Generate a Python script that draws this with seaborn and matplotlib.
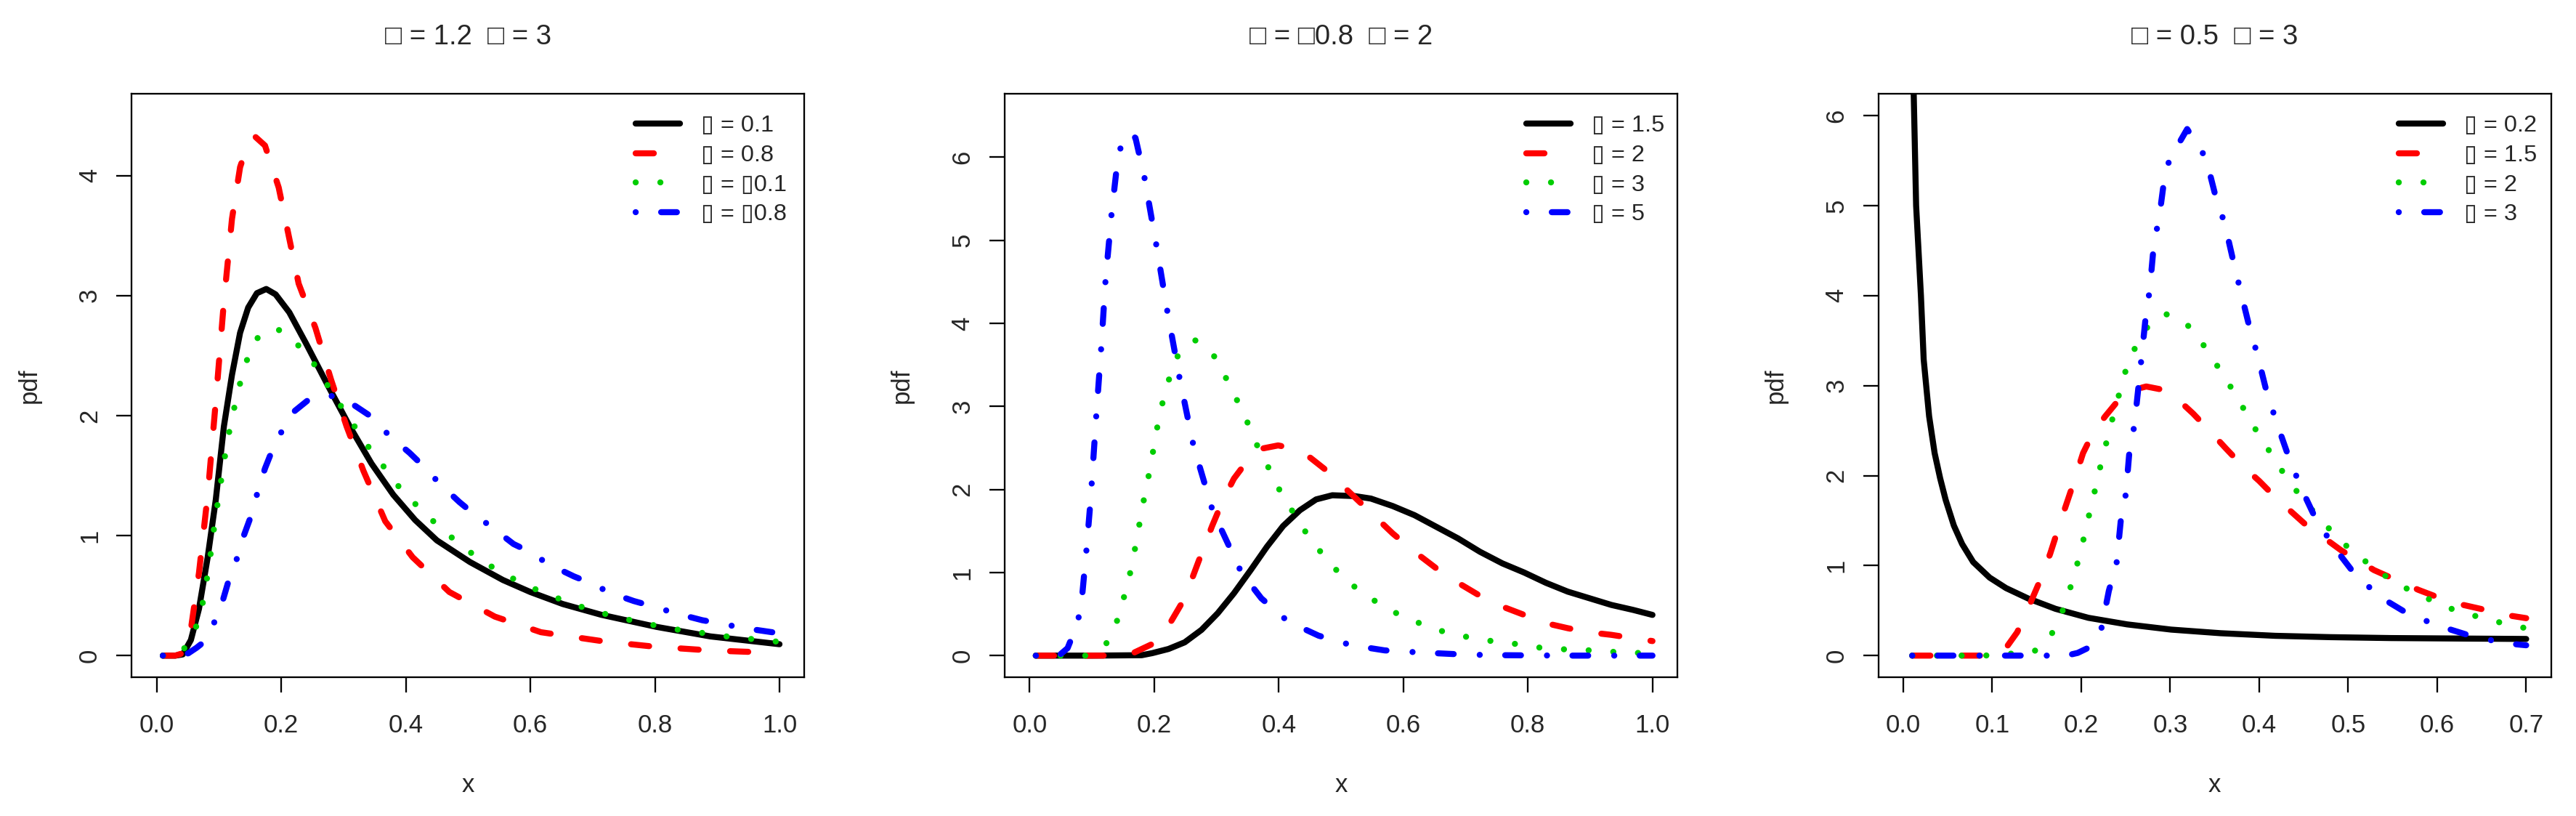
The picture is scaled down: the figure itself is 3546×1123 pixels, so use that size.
import matplotlib
matplotlib.use("Agg")
import matplotlib.pyplot as plt
import seaborn as sns
import numpy as np
import pandas as pd

# ---------------- data ----------------
titles = ["\u25a1 = 1.2  \u25a1 = 3", "\u25a1 = \u25a10.8  \u25a1 = 2", "\u25a1 = 0.5  \u25a1 = 3"]
legend_labels = [
    ["\u25af = 0.1", "\u25af = 0.8", "\u25af = \u25af0.1", "\u25af = \u25af0.8"],
    ["\u25af = 1.5", "\u25af = 2", "\u25af = 3", "\u25af = 5"],
    ["\u25af = 0.2", "\u25af = 1.5", "\u25af = 2", "\u25af = 3"],
]
xticks_p12 = [0.0, 0.2, 0.4, 0.6, 0.8, 1.0]
xticks_p3 = [0.0, 0.1, 0.2, 0.3, 0.4, 0.5, 0.6, 0.7]
yticks_p1 = [0, 1, 2, 3, 4]
yticks_p2 = [0, 1, 2, 3, 4, 5, 6]
yticks_p3 = [0, 1, 2, 3, 4, 5, 6]

# panel 1
p1_black_x = [0.01, 0.03, 0.042, 0.055, 0.068, 0.082, 0.095, 0.108, 0.121, 0.134, 0.147, 0.161, 0.176, 0.191, 0.213, 0.240, 0.275, 0.310, 0.345, 0.380, 0.415, 0.450, 0.503, 0.556, 0.600, 0.652, 0.714, 0.802, 0.889, 1.0]
p1_black_y = [0, 0, 0.01, 0.13, 0.39, 0.82, 1.30, 1.91, 2.34, 2.69, 2.90, 3.02, 3.055, 3.01, 2.86, 2.60, 2.25, 1.91, 1.60, 1.34, 1.13, 0.96, 0.78, 0.63, 0.53, 0.43, 0.34, 0.24, 0.16, 0.095]
p1_red_x = [0.01, 0.03, 0.042, 0.055, 0.068, 0.082, 0.095, 0.108, 0.121, 0.134, 0.147, 0.158, 0.174, 0.196, 0.228, 0.255, 0.280, 0.305, 0.332, 0.367, 0.411, 0.470, 0.543, 0.617, 0.720, 0.800, 0.889, 1.0]
p1_red_y = [0, 0, 0.02, 0.22, 0.69, 1.34, 2.12, 2.95, 3.64, 4.07, 4.27, 4.325, 4.25, 3.90, 3.10, 2.73, 2.30, 1.91, 1.54, 1.12, 0.82, 0.53, 0.325, 0.195, 0.117, 0.074, 0.043, 0.022]
p1_green_x = [0.01, 0.03, 0.040, 0.062, 0.073, 0.080, 0.086, 0.091, 0.097, 0.103, 0.109, 0.116, 0.124, 0.133, 0.144, 0.160, 0.192, 0.223, 0.249, 0.271, 0.292, 0.314, 0.337, 0.361, 0.385, 0.412, 0.441, 0.470, 0.501, 0.535, 0.569, 0.605, 0.643, 0.680, 0.718, 0.757, 0.796, 0.836, 0.875, 0.915, 0.954, 0.995, 1.0]
p1_green_y = [0, 0, 0.022, 0.217, 0.41, 0.615, 0.82, 1.02, 1.235, 1.44, 1.64, 1.85, 2.05, 2.25, 2.45, 2.64, 2.73, 2.61, 2.46, 2.28, 2.11, 1.94, 1.76, 1.60, 1.43, 1.28, 1.135, 1.00, 0.87, 0.75, 0.65, 0.56, 0.48, 0.41, 0.35, 0.30, 0.256, 0.217, 0.19, 0.16, 0.139, 0.117, 0.115]
p1_blue_x = [0.01, 0.042, 0.051, 0.064, 0.075, 0.092, 0.106, 0.117, 0.129, 0.140, 0.152, 0.162, 0.174, 0.187, 0.202, 0.222, 0.247, 0.265, 0.287, 0.319, 0.345, 0.374, 0.406, 0.428, 0.455, 0.486, 0.507, 0.538, 0.573, 0.597, 0.630, 0.670, 0.694, 0.730, 0.766, 0.797, 0.835, 0.876, 0.903, 0.942, 1.0]
p1_blue_y = [0, 0, 0.02, 0.065, 0.11, 0.27, 0.455, 0.65, 0.81, 1.0, 1.17, 1.36, 1.56, 1.73, 1.88, 2.04, 2.145, 2.17, 2.16, 2.08, 1.99, 1.83, 1.69, 1.58, 1.43, 1.28, 1.19, 1.07, 0.93, 0.87, 0.76, 0.66, 0.61, 0.52, 0.455, 0.41, 0.35, 0.295, 0.27, 0.23, 0.186]

# panel 2
p2_black_x = [0.01, 0.10, 0.18, 0.197, 0.223, 0.249, 0.276, 0.302, 0.328, 0.355, 0.381, 0.407, 0.434, 0.460, 0.486, 0.522, 0.548, 0.583, 0.618, 0.653, 0.688, 0.723, 0.759, 0.794, 0.829, 0.864, 0.899, 0.934, 0.969, 1.0]
p2_black_y = [0, 0, 0.005, 0.03, 0.08, 0.16, 0.31, 0.51, 0.75, 1.03, 1.31, 1.56, 1.75, 1.88, 1.93, 1.92, 1.89, 1.80, 1.69, 1.55, 1.41, 1.25, 1.11, 1.00, 0.876, 0.77, 0.69, 0.61, 0.55, 0.49]
p2_red_x = [0.01, 0.10, 0.153, 0.166, 0.197, 0.227, 0.249, 0.271, 0.293, 0.311, 0.328, 0.346, 0.372, 0.399, 0.425, 0.451, 0.478, 0.513, 0.548, 0.583, 0.618, 0.653, 0.688, 0.723, 0.759, 0.794, 0.829, 0.864, 0.899, 0.934, 0.960, 1.0]
p2_red_y = [0, 0, 0.0, 0.03, 0.14, 0.41, 0.69, 1.13, 1.56, 1.88, 2.13, 2.31, 2.49, 2.53, 2.49, 2.38, 2.22, 1.97, 1.72, 1.47, 1.25, 1.05, 0.876, 0.72, 0.59, 0.49, 0.39, 0.33, 0.28, 0.25, 0.22, 0.175]
p2_green_x = [0.01, 0.0896, 0.123, 0.140, 0.151, 0.161, 0.169, 0.176, 0.183, 0.191, 0.198, 0.205, 0.213, 0.224, 0.238, 0.265, 0.295, 0.314, 0.332, 0.349, 0.364, 0.383, 0.400, 0.421, 0.4425, 0.466, 0.4925, 0.5215, 0.554, 0.589, 0.626, 0.664, 0.702, 0.742, 0.781, 0.821, 0.860, 0.901, 0.940, 0.981, 1.0]
p2_green_y = [0, 0, 0.144, 0.41, 0.69, 0.98, 1.28, 1.57, 1.86, 2.16, 2.45, 2.75, 3.03, 3.33, 3.61, 3.80, 3.62, 3.36, 3.09, 2.82, 2.55, 2.27, 2.01, 1.75, 1.495, 1.26, 1.03, 0.83, 0.66, 0.51, 0.39, 0.29, 0.225, 0.175, 0.14, 0.094, 0.075, 0.063, 0.044, 0.031, 0.028]
p2_blue_x = [0.01, 0.047, 0.061, 0.069, 0.078, 0.084, 0.091, 0.098, 0.107, 0.115, 0.122, 0.132, 0.140, 0.1475, 0.1615, 0.170, 0.184, 0.203, 0.221, 0.241, 0.263, 0.294, 0.340, 0.372, 0.415, 0.464, 0.517, 0.570, 0.627, 0.680, 0.737, 0.864, 1.0]
p2_blue_y = [0, 0, 0.09, 0.24, 0.43, 0.69, 1.25, 1.88, 2.89, 3.71, 4.53, 5.35, 5.88, 6.17, 6.29, 6.23, 5.77, 4.96, 4.15, 3.33, 2.53, 1.74, 1.0, 0.69, 0.41, 0.24, 0.125, 0.063, 0.038, 0.019, 0.006, 0, 0]

# panel 3
p3_black_x = [0.01, 0.0117, 0.0144, 0.0198, 0.0229, 0.029, 0.0352, 0.0414, 0.0476, 0.0568, 0.0661, 0.0785, 0.097, 0.1155, 0.140, 0.171, 0.208, 0.2515, 0.301, 0.3565, 0.418, 0.480, 0.548, 0.622, 0.70]
p3_black_y = [7.2, 6.24, 5.0, 4.0, 3.29, 2.66, 2.25, 1.97, 1.73, 1.445, 1.24, 1.04, 0.867, 0.75, 0.636, 0.52, 0.42, 0.347, 0.289, 0.249, 0.22, 0.205, 0.195, 0.19, 0.185]
p3_red_x = [0.01, 0.06, 0.103, 0.1155, 0.128, 0.140, 0.1526, 0.165, 0.177, 0.190, 0.202, 0.214, 0.227, 0.242, 0.2576, 0.273, 0.2885, 0.307, 0.3256, 0.344, 0.3627, 0.381, 0.400, 0.418, 0.437, 0.455, 0.474, 0.492, 0.511, 0.529, 0.554, 0.579, 0.604, 0.628, 0.653, 0.678, 0.70]
p3_red_y = [0, 0, 0.0, 0.087, 0.26, 0.52, 0.81, 1.13, 1.50, 1.88, 2.25, 2.49, 2.66, 2.84, 2.95, 2.99, 2.96, 2.86, 2.69, 2.50, 2.30, 2.11, 1.94, 1.76, 1.59, 1.43, 1.30, 1.17, 1.06, 0.95, 0.84, 0.73, 0.636, 0.566, 0.51, 0.45, 0.416]
p3_green_x = [0.01, 0.063, 0.091, 0.1464, 0.166, 0.178, 0.187, 0.195, 0.202, 0.208, 0.2145, 0.2207, 0.2274, 0.2342, 0.2416, 0.249, 0.2595, 0.275, 0.294, 0.318, 0.336, 0.3515, 0.3664, 0.3806, 0.3948, 0.4096, 0.4244, 0.441, 0.4584, 0.4776, 0.4973, 0.519, 0.541, 0.5647, 0.590, 0.616, 0.643, 0.670, 0.697, 0.70]
p3_green_y = [0, 0, 0, 0.04, 0.225, 0.47, 0.73, 1.00, 1.27, 1.53, 1.80, 2.07, 2.335, 2.60, 2.87, 3.14, 3.40, 3.66, 3.80, 3.69, 3.47, 3.24, 3.01, 2.775, 2.53, 2.30, 2.07, 1.84, 1.63, 1.42, 1.225, 1.05, 0.89, 0.75, 0.63, 0.52, 0.44, 0.37, 0.31, 0.30]
p3_blue_x = [0.01, 0.10, 0.183, 0.196, 0.208, 0.2224, 0.231, 0.2397, 0.245, 0.250, 0.255, 0.2595, 0.2675, 0.273, 0.2768, 0.2823, 0.2867, 0.2947, 0.3015, 0.319, 0.340, 0.350, 0.3614, 0.3707, 0.379, 0.388, 0.3985, 0.4078, 0.4195, 0.4319, 0.4467, 0.462, 0.4837, 0.507, 0.536, 0.568, 0.605, 0.6407, 0.679, 0.70]
p3_blue_y = [0, 0, 0.0, 0.03, 0.087, 0.29, 0.72, 1.03, 1.56, 1.79, 2.37, 2.54, 3.29, 3.82, 4.05, 4.65, 4.80, 5.40, 5.55, 5.85, 5.53, 5.14, 4.79, 4.39, 4.05, 3.69, 3.32, 2.95, 2.59, 2.24, 1.87, 1.55, 1.21, 0.91, 0.65, 0.46, 0.32, 0.21, 0.135, 0.115]

panels = [
    [(p1_black_x, p1_black_y), (p1_red_x, p1_red_y), (p1_green_x, p1_green_y), (p1_blue_x, p1_blue_y)],
    [(p2_black_x, p2_black_y), (p2_red_x, p2_red_y), (p2_green_x, p2_green_y), (p2_blue_x, p2_blue_y)],
    [(p3_black_x, p3_black_y), (p3_red_x, p3_red_y), (p3_green_x, p3_green_y), (p3_blue_x, p3_blue_y)],
]

# ---------------- styling ----------------
sns.set_style("ticks")
plt.rcParams["font.family"] = ["Liberation Sans", "DejaVu Sans"]
plt.rcParams["lines.dash_capstyle"] = "round"
plt.rcParams["lines.solid_capstyle"] = "round"
plt.rcParams["lines.dash_joinstyle"] = "round"
plt.rcParams["lines.solid_joinstyle"] = "round"

colors = ["black", "#FF0000", "#00CD00", "#0000FF"]
styles = ["-", (0, (3.0, 5.2)), (0, (0.01, 4.07)), (0, (0.01, 4.2, 2.6, 4.3))]
LW = 6

fig = plt.figure(figsize=(35.46, 11.23), dpi=100)
lefts = [0.05113, 0.39002, 0.72919]
W, B, H = 0.26114, 0.17008, 0.71478
xlims = [(-0.04, 1.04), (-0.04, 1.04), (-0.028, 0.728)]
ylims = [(-0.18, 4.68), (-0.26, 6.76), (-0.24, 6.24)]
xticks_all = [xticks_p12, xticks_p12, xticks_p3]
yticks_all = [yticks_p1, yticks_p2, yticks_p3]
leg_x = [0.7491, 0.7756, 0.7737]

for i in range(3):
    ax = fig.add_axes([lefts[i], B, W, H])
    for j, (xs, ys) in enumerate(panels[i]):
        df = pd.DataFrame({"x": xs, "pdf": ys})
        sns.lineplot(data=df, x="x", y="pdf", ax=ax, color=colors[j], linewidth=LW,
                     linestyle=styles[j], label=legend_labels[i][j], sort=False,
                     estimator=None)
    ax.set_xlim(*xlims[i])
    ax.set_ylim(*ylims[i])
    ax.set_xticks(xticks_all[i])
    ax.set_xticklabels([f"{t:.1f}" for t in xticks_all[i]])
    ax.set_yticks(yticks_all[i])
    ax.set_yticklabels([str(t) for t in yticks_all[i]])
    ax.tick_params(axis="both", length=15.1, width=1.66, color="black", labelsize=25)
    ax.tick_params(axis="x", pad=21)
    ax.tick_params(axis="y", pad=14.7, labelrotation=90)
    for lbl in ax.get_yticklabels():
        lbl.set_va("center")
    for sp in ax.spines.values():
        sp.set_visible(True)
        sp.set_linewidth(1.66)
        sp.set_color("black")
    ax.set_xlabel("x", fontsize=25)
    ax.set_ylabel("pdf", fontsize=25)
    ax.xaxis.set_label_coords(0.5, -0.1642)
    ax.yaxis.set_label_coords(-0.1348, 0.5)
    ax.set_title(titles[i], fontsize=27.5, pad=49.4)
    ax.legend(loc="upper left", bbox_to_anchor=(leg_x[i], 0.964), frameon=False,
              fontsize=23.4, handlelength=1.87, handletextpad=0.9, labelspacing=0.33,
              borderpad=0, borderaxespad=0)

fig.savefig("out.png", dpi=100, facecolor="white")
